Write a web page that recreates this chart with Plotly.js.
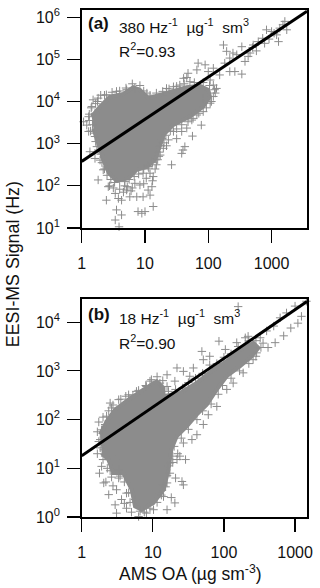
<!DOCTYPE html>
<html>
<head>
<meta charset="utf-8">
<script src="https://cdn.plot.ly/plotly-3.0.1.min.js"></script>
<style>html,body{margin:0;padding:0;background:#fff}</style>
</head>
<body>
<div id="plot" style="width:320px;height:588px"></div>
<script>
// Valores, en log10 (Hz y ug/sm3)
// Panel (a): puntos individuales
const aLogX = [3.58,3.21,3.18,3.13,3.24,3.08,3.0,2.92,3.11,2.89,2.79,2.71,2.66,2.53,2.63,2.58,2.45,2.39,2.34,2.24,2.29,2.26,2.42,2.53,2.34,2.18,2.08,1.95,1.84,1.82,1.68,1.61,1.71,2.0,2.08,2.13,2.03,2.11,1.92,2.03,1.92,1.82,1.89,1.74,1.66,1.58,1.45,1.63,1.58,1.42,1.24,1.29,1.37,1.18,1.11,1.05,1.13,1.11,1.08,0.97,0.92,0.97,0.87,0.95,0.89,1.0,1.13,0.63,0.55,0.53,0.59,0.39,0.58,0.63,0.76,0.71,0.53,0.26,0.34,0.42,0.84,0.29,0.21,0.13,0.24,0.21,0.11,0.03,0.08,0.11,0.21,0.16,0.18,0.26,0.39,0.55,0.71,0.84,1.03,1.34,1.45,1.55,1.66,
  0.12,0.15,0.22,0.12,0.17,0.14,0.20,0.22,0.26,0.30,0.32,0.36,0.40,0.46,0.52,0.60,0.68,0.75,0.83,0.90,0.98,1.06,1.12,1.20,1.22,1.24,1.27,1.33,1.40,1.50,1.58,1.68,1.76,1.85,1.97,2.05,2.08,2.10,2.02,1.92,1.78,1.62,1.50,1.38,1.28,1.18,1.08,0.98,0.92,0.80,0.70,0.60,0.48,0.36,0.25,0.30,
  1.34,1.30,1.22,1.16,1.08,1.02,0.98,1.12,1.05,0.80,0.72,0.66,0.60,0.50,0.44,0.68,0.78,2.76,2.86,2.96,3.04,2.70,1.50,1.75,1.60];
const aLogY = [6.17,5.90,5.82,5.74,5.70,5.58,5.66,5.70,5.42,5.38,5.42,5.34,5.15,5.30,5.07,4.95,5.11,5.15,5.03,5.34,5.19,4.91,4.71,4.65,4.71,4.63,4.79,4.87,4.91,4.75,4.67,4.55,4.47,4.71,4.39,4.31,4.51,4.20,4.08,3.96,3.76,3.68,3.44,3.56,3.37,3.29,3.29,2.93,2.77,2.50,2.73,2.89,3.09,2.50,2.57,2.46,2.22,1.98,1.78,2.30,2.02,1.74,1.74,1.35,1.39,1.39,1.51,1.31,1.43,1.19,1.03,1.66,1.70,1.66,1.74,1.90,1.82,2.14,2.38,1.98,2.06,2.61,2.65,2.81,2.93,3.17,3.29,3.52,3.44,3.64,3.72,3.88,4.04,4.08,4.16,4.24,4.28,4.32,4.20,4.31,4.35,4.39,4.57,
  3.70,3.85,3.95,3.55,3.45,3.30,3.25,3.05,2.85,2.75,2.55,2.40,2.25,2.15,2.08,2.12,2.10,2.15,2.22,2.28,2.40,2.42,2.55,2.62,2.80,2.95,3.12,3.20,3.30,3.35,3.45,3.52,3.60,3.72,3.85,4.00,4.12,4.28,4.38,4.45,4.45,4.42,4.36,4.30,4.24,4.20,4.15,4.25,4.38,4.42,4.32,4.25,4.22,4.15,4.00,4.15,
  2.95,3.02,2.70,2.40,2.30,2.18,2.05,2.12,1.90,1.95,1.98,1.85,1.92,1.95,2.00,2.00,1.88,5.20,5.50,5.48,5.62,5.28,3.12,3.18,2.85];
// Panel (a): contorno de la zona saturada, donde no se distinguen puntos
const aCoreX = [0.158,0.289,0.447,0.658,0.816,0.921,1.053,1.237,1.447,1.658,1.868,2.0,2.026,1.921,1.711,1.447,1.30,1.24,1.16,1.03,0.868,0.74,0.55,0.43,0.34,0.28,0.22,0.184];
const aCoreY = [3.642,3.880,4.117,4.180,4.339,4.275,4.078,4.157,4.259,4.339,4.370,4.275,4.117,3.880,3.642,3.445,3.22,2.95,2.62,2.45,2.377,2.18,2.12,2.30,2.62,2.93,3.25,3.365];
// Panel (b): puntos individuales
const bLogX = [3.16,3.09,3.0,2.88,2.79,2.20,2.70,2.60,2.51,2.46,2.55,2.34,2.30,2.18,1.93,2.02,1.80,1.69,1.71,1.57,1.43,1.34,1.20,1.31,1.52,1.10,0.96,0.91,0.77,0.66,0.52,0.42,0.35,0.40,0.33,0.28,0.26,0.31,0.30,0.28,0.31,0.47,0.49,0.38,0.47,0.49,0.80,0.82,0.91,1.01,1.20,1.31,1.15,1.20,1.41,1.43,1.24,1.38,1.34,1.24,1.43,1.55,1.62,1.71,1.78,1.90,2.04,2.13,2.27,2.41,0.54,0.52,0.75,0.63,0.63,
  0.22,0.24,0.30,0.38,0.44,0.55,0.62,0.72,0.80,0.90,0.98,1.06,1.14,1.20,1.22,1.32,1.42,1.50,1.60,1.70,1.80,1.90,2.0,2.10,2.20,2.35,2.45,2.52,2.45,2.35,2.22,2.10,1.98,1.92,1.82,1.70,1.62,1.50,1.40,1.30,1.28,1.22,1.20,1.14,1.12,1.06,0.96,0.88,0.70,0.68,0.66,0.60,0.52,0.42,0.36,0.33,0.26,0.24,0.22,0.40,0.25,
  1.35,1.28,1.46,1.32,1.18,1.10,1.26,0.44,0.34,0.56,0.60,2.62,2.72,2.84,2.94,3.04];
const bLogY = [4.43,4.12,4.33,4.19,4.09,4.32,3.92,3.82,3.68,3.37,3.57,3.71,3.68,3.58,3.61,3.44,3.30,3.40,3.23,3.06,2.99,3.06,2.92,2.79,2.89,2.75,2.79,2.68,2.58,2.51,2.41,2.24,2.07,2.34,1.90,1.79,1.59,1.38,1.18,1.04,0.70,1.18,0.56,0.46,0.25,0.08,0.01,0.12,0.08,0.15,0.15,0.29,0.42,0.70,0.73,0.66,0.90,1.25,1.18,1.11,1.52,1.59,1.69,1.90,2.10,2.27,2.62,2.75,2.96,3.23,0.84,0.97,0.36,0.49,0.18,
  1.75,1.95,2.05,2.18,2.30,2.42,2.48,2.50,2.60,2.70,2.82,2.88,2.80,2.68,2.58,2.62,2.65,2.76,2.85,2.95,3.12,3.15,3.28,3.35,3.50,3.62,3.62,3.48,3.30,3.15,3.00,2.85,2.70,2.52,2.32,2.18,2.00,1.80,1.62,1.45,1.25,1.05,0.85,0.65,0.45,0.30,0.18,0.10,0.10,0.30,0.50,0.72,0.80,0.82,1.00,1.25,1.42,1.55,1.30,0.95,0.90,
  1.30,1.12,1.18,0.80,0.62,0.48,0.40,0.64,0.72,0.36,0.28,3.48,3.58,3.72,3.88,3.98];
// Panel (b): contorno de la zona saturada
const bCoreX = [0.258,0.352,0.469,0.656,0.867,1.055,1.149,1.149,1.383,1.617,1.852,2.039,2.227,2.414,2.485,2.391,2.227,2.039,1.899,1.758,1.617,1.477,1.336,1.26,1.22,1.15,1.008,0.844,0.750,0.703,0.586,0.445,0.375,0.281];
const bCoreY = [1.692,1.966,2.205,2.411,2.616,2.788,2.651,2.479,2.548,2.753,3.027,3.199,3.438,3.575,3.473,3.301,3.096,2.890,2.616,2.308,2.103,1.863,1.658,1.384,0.97,0.56,0.288,0.151,0.219,0.562,0.904,0.904,1.178,1.315];
// Rectas de ajuste
const fitAX = [1, 3630];
const fitAY = [380, 1379400];
const fitBX = [1, 1470];
const fitBY = [18, 26460];
// Etiquetas de ejes
const xTicksA = [1, 10, 100, 1000];
const xTickText = ['1', '10', '100', '1000'];
const yTicksA = [10, 100, 1000, 10000, 100000, 1000000];
const yTextA = ['10<sup>1</sup>', '10<sup>2</sup>', '10<sup>3</sup>', '10<sup>4</sup>', '10<sup>5</sup>', '10<sup>6</sup>'];
const yTicksB = [1, 10, 100, 1000, 10000];
const yTextB = ['10<sup>0</sup>', '10<sup>1</sup>', '10<sup>2</sup>', '10<sup>3</sup>', '10<sup>4</sup>'];

const GRIS = '#8c8c8c';
const FUENTE = 'Liberation Sans, Arial, sans-serif';
const pow10 = v => Math.pow(10, v);

const nube = (lx, ly, xa, ya) => ({
  x: lx.map(pow10), y: ly.map(pow10), xaxis: xa, yaxis: ya,
  type: 'scatter', mode: 'markers', cliponaxis: false, hoverinfo: 'skip',
  marker: { symbol: 'cross-thin', size: 6, color: GRIS, line: { color: GRIS, width: 1 } }
});
const nucleo = (lx, ly, xa, ya) => ({
  x: lx.map(pow10), y: ly.map(pow10), xaxis: xa, yaxis: ya,
  type: 'scatter', mode: 'lines', fill: 'toself', fillcolor: GRIS, hoverinfo: 'skip',
  line: { color: GRIS, width: 4 }
});
const recta = (x, y, xa, ya) => ({
  x, y, xaxis: xa, yaxis: ya, type: 'scatter', mode: 'lines', hoverinfo: 'skip',
  line: { color: '#000', width: 3 }
});

const data = [
  nucleo(aCoreX, aCoreY, 'x', 'y'), nube(aLogX, aLogY, 'x', 'y'), recta(fitAX, fitAY, 'x', 'y'),
  nucleo(bCoreX, bCoreY, 'x2', 'y2'), nube(bLogX, bLogY, 'x2', 'y2'), recta(fitBX, fitBY, 'x2', 'y2')
];

const eje = (extra) => Object.assign({
  type: 'log', showgrid: false, zeroline: false, showline: true, mirror: true,
  linecolor: '#000', linewidth: 1.5, ticks: 'outside', ticklen: 13, tickwidth: 1.2,
  tickcolor: '#000', tickmode: 'array', tickangle: 0,
  tickfont: { family: FUENTE, size: 16, color: '#111' }
}, extra);

const nota = (xref, yref, x, y, text, size, extra) => Object.assign({
  xref, yref, x, y, text, showarrow: false, xanchor: 'left', yanchor: 'middle',
  font: { family: FUENTE, size, color: '#111' }
}, extra);

const layout = {
  width: 320, height: 588, showlegend: false,
  paper_bgcolor: '#fff', plot_bgcolor: '#fff',
  margin: { l: 0, r: 0, t: 0, b: 0 },
  xaxis: eje({ domain: [0.2553, 0.9594], range: [0, 3.56], tickvals: xTicksA, ticktext: xTickText, anchor: 'y', ticklabelstandoff: 7 }),
  yaxis: eje({ domain: [0.6122, 0.983], range: [1, 6.17], tickvals: yTicksA, ticktext: yTextA, anchor: 'x', ticklabelstandoff: 4 }),
  xaxis2: eje({ domain: [0.2553, 0.9594], range: [0, 3.168], tickvals: xTicksA, ticktext: xTickText, anchor: 'y2', ticklabelstandoff: 7 }),
  yaxis2: eje({ domain: [0.1207, 0.4915], range: [0, 4.476], tickvals: yTicksB, ticktext: yTextB, anchor: 'x2', ticklabelstandoff: 4 }),
  annotations: [
    nota('x domain', 'y domain', 0.018, 0.94, '<b>(a)</b>', 17),
    nota('x domain', 'y domain', 0.155, 0.925, '380 Hz<sup>-1</sup>  µg<sup>-1</sup>  sm<sup>3</sup>', 15.5),
    nota('x domain', 'y domain', 0.155, 0.815, 'R<sup>2</sup>=0.93', 15.5),
    nota('x2 domain', 'y2 domain', 0.018, 0.93, '<b>(b)</b>', 17),
    nota('x2 domain', 'y2 domain', 0.155, 0.919, '18 Hz<sup>-1</sup>  µg<sup>-1</sup>  sm<sup>3</sup>', 15.5),
    nota('x2 domain', 'y2 domain', 0.155, 0.804, 'R<sup>2</sup>=0.90', 15.5),
    nota('paper', 'paper', 0.041, 0.551, 'EESI-MS Signal (Hz)', 17.8, { textangle: -90, xanchor: 'center' }),
    nota('paper', 'paper', 0.594, 0.026, 'AMS OA (µg sm<sup>-3</sup>)', 17.5, { xanchor: 'center' })
  ]
};

Plotly.newPlot('plot', data, layout, { displayModeBar: false, staticPlot: true });
</script>
</body>
</html>
